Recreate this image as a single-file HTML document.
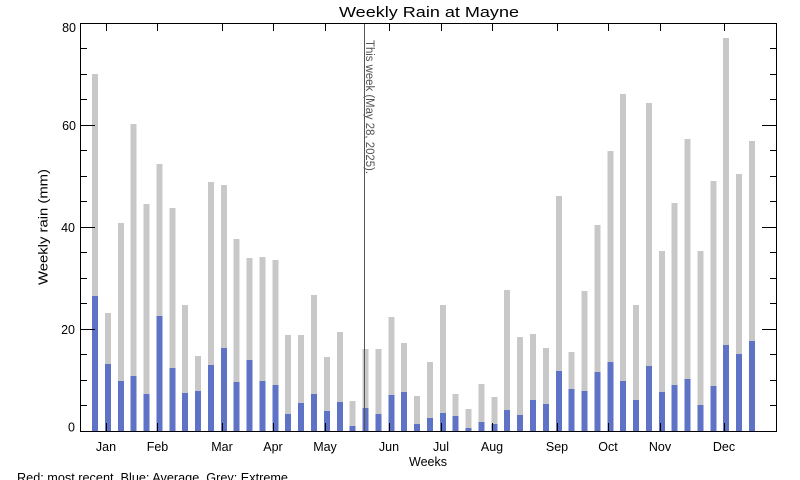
<!DOCTYPE html>
<html><head><meta charset="utf-8"><style>
html,body{margin:0;padding:0;background:#fff;}
svg{display:block;font-family:"Liberation Sans",sans-serif;}
</style></head><body>
<svg width="800" height="480" viewBox="0 0 800 480" xmlns="http://www.w3.org/2000/svg">
<rect width="800" height="480" fill="#fff"/>
<text x="429" y="17" font-size="15" text-anchor="middle" textLength="180" lengthAdjust="spacingAndGlyphs">Weekly Rain at Mayne</text>
<g shape-rendering="crispEdges">
<g fill="#c8c8c8">
<rect x="92" y="74" width="6" height="357"/>
<rect x="104.9" y="313" width="6" height="118"/>
<rect x="117.8" y="223" width="6" height="208"/>
<rect x="130.6" y="124" width="6" height="307"/>
<rect x="143.5" y="204" width="6" height="227"/>
<rect x="156.4" y="164" width="6" height="267"/>
<rect x="169.3" y="208" width="6" height="223"/>
<rect x="182.2" y="305" width="6" height="126"/>
<rect x="195.1" y="356" width="6" height="75"/>
<rect x="207.9" y="182" width="6" height="249"/>
<rect x="220.8" y="185" width="6" height="246"/>
<rect x="233.7" y="239" width="6" height="192"/>
<rect x="246.6" y="258" width="6" height="173"/>
<rect x="259.5" y="257" width="6" height="174"/>
<rect x="272.3" y="260" width="6" height="171"/>
<rect x="285.2" y="335" width="6" height="96"/>
<rect x="298.1" y="335" width="6" height="96"/>
<rect x="311" y="295" width="6" height="136"/>
<rect x="323.9" y="357" width="6" height="74"/>
<rect x="336.8" y="332" width="6" height="99"/>
<rect x="349.6" y="401" width="6" height="30"/>
<rect x="362.5" y="349" width="6" height="82"/>
<rect x="375.4" y="349" width="6" height="82"/>
<rect x="388.3" y="317" width="6" height="114"/>
<rect x="401.2" y="343" width="6" height="88"/>
<rect x="414.1" y="396" width="6" height="35"/>
<rect x="426.9" y="362" width="6" height="69"/>
<rect x="439.8" y="305" width="6" height="126"/>
<rect x="452.7" y="394" width="6" height="37"/>
<rect x="465.6" y="409" width="6" height="22"/>
<rect x="478.5" y="384" width="6" height="47"/>
<rect x="491.3" y="397" width="6" height="34"/>
<rect x="504.2" y="290" width="6" height="141"/>
<rect x="517.1" y="337" width="6" height="94"/>
<rect x="530" y="334" width="6" height="97"/>
<rect x="542.9" y="348" width="6" height="83"/>
<rect x="555.8" y="196" width="6" height="235"/>
<rect x="568.6" y="352" width="6" height="79"/>
<rect x="581.5" y="291" width="6" height="140"/>
<rect x="594.4" y="225" width="6" height="206"/>
<rect x="607.3" y="151" width="6" height="280"/>
<rect x="620.2" y="94" width="6" height="337"/>
<rect x="633" y="305" width="6" height="126"/>
<rect x="645.9" y="103" width="6" height="328"/>
<rect x="658.8" y="251" width="6" height="180"/>
<rect x="671.7" y="203" width="6" height="228"/>
<rect x="684.6" y="139" width="6" height="292"/>
<rect x="697.5" y="251" width="6" height="180"/>
<rect x="710.3" y="181" width="6" height="250"/>
<rect x="723.2" y="38" width="6" height="393"/>
<rect x="736.1" y="174" width="6" height="257"/>
<rect x="749" y="141" width="6" height="290"/>
</g>
<g fill="#5e72c6">
<rect x="92" y="296" width="6" height="135"/>
<rect x="104.9" y="364" width="6" height="67"/>
<rect x="117.8" y="381" width="6" height="50"/>
<rect x="130.6" y="376" width="6" height="55"/>
<rect x="143.5" y="394" width="6" height="37"/>
<rect x="156.4" y="316" width="6" height="115"/>
<rect x="169.3" y="368" width="6" height="63"/>
<rect x="182.2" y="393" width="6" height="38"/>
<rect x="195.1" y="391" width="6" height="40"/>
<rect x="207.9" y="365" width="6" height="66"/>
<rect x="220.8" y="348" width="6" height="83"/>
<rect x="233.7" y="382" width="6" height="49"/>
<rect x="246.6" y="360" width="6" height="71"/>
<rect x="259.5" y="381" width="6" height="50"/>
<rect x="272.3" y="385" width="6" height="46"/>
<rect x="285.2" y="414" width="6" height="17"/>
<rect x="298.1" y="403" width="6" height="28"/>
<rect x="311" y="394" width="6" height="37"/>
<rect x="323.9" y="411" width="6" height="20"/>
<rect x="336.8" y="402" width="6" height="29"/>
<rect x="349.6" y="426" width="6" height="5"/>
<rect x="362.5" y="408" width="6" height="23"/>
<rect x="375.4" y="414" width="6" height="17"/>
<rect x="388.3" y="395" width="6" height="36"/>
<rect x="401.2" y="392" width="6" height="39"/>
<rect x="414.1" y="424" width="6" height="7"/>
<rect x="426.9" y="418" width="6" height="13"/>
<rect x="439.8" y="413" width="6" height="18"/>
<rect x="452.7" y="416" width="6" height="15"/>
<rect x="465.6" y="428" width="6" height="3"/>
<rect x="478.5" y="422" width="6" height="9"/>
<rect x="491.3" y="424" width="6" height="7"/>
<rect x="504.2" y="410" width="6" height="21"/>
<rect x="517.1" y="415" width="6" height="16"/>
<rect x="530" y="400" width="6" height="31"/>
<rect x="542.9" y="404" width="6" height="27"/>
<rect x="555.8" y="371" width="6" height="60"/>
<rect x="568.6" y="389" width="6" height="42"/>
<rect x="581.5" y="391" width="6" height="40"/>
<rect x="594.4" y="372" width="6" height="59"/>
<rect x="607.3" y="362" width="6" height="69"/>
<rect x="620.2" y="381" width="6" height="50"/>
<rect x="633" y="400" width="6" height="31"/>
<rect x="645.9" y="366" width="6" height="65"/>
<rect x="658.8" y="392" width="6" height="39"/>
<rect x="671.7" y="385" width="6" height="46"/>
<rect x="684.6" y="379" width="6" height="52"/>
<rect x="697.5" y="405" width="6" height="26"/>
<rect x="710.3" y="386" width="6" height="45"/>
<rect x="723.2" y="345" width="6" height="86"/>
<rect x="736.1" y="354" width="6" height="77"/>
<rect x="749" y="341" width="6" height="90"/>
</g>
<line x1="364.5" y1="23" x2="364.5" y2="431" stroke="#555" stroke-width="1"/>
<g stroke="#000" stroke-width="1" fill="none">
<rect x="80.5" y="23.5" width="696" height="408"/>
<path d="M80 405.5h7M80 380.5h7M80 354.5h7M80 329.5h15M80 303.5h7M80 278.5h7M80 252.5h7M80 227.5h15M80 201.5h7M80 176.5h7M80 150.5h7M80 125.5h15M80 99.5h7M80 74.5h7M80 48.5h7"/>
<path d="M777 405.5h-7M777 380.5h-7M777 354.5h-7M777 329.5h-15M777 303.5h-7M777 278.5h-7M777 252.5h-7M777 227.5h-15M777 201.5h-7M777 176.5h-7M777 150.5h-7M777 125.5h-15M777 99.5h-7M777 74.5h-7M777 48.5h-7"/>
<path d="M106.5 23v8M157.5 23v8M222.5 23v8M273.5 23v8M325.5 23v8M389.5 23v8M441.5 23v8M492.5 23v8M557.5 23v8M608.5 23v8M660.5 23v8M724.5 23v8"/>
<path d="M106.5 431v-8M157.5 431v-8M222.5 431v-8M273.5 431v-8M325.5 431v-8M389.5 431v-8M441.5 431v-8M492.5 431v-8M557.5 431v-8M608.5 431v-8M660.5 431v-8M724.5 431v-8"/>
</g>
</g>
<text transform="translate(366,40) rotate(90)" font-size="11.5" fill="#555" textLength="134" lengthAdjust="spacingAndGlyphs">This week (May 28, 2025).</text>
<g font-size="12.5" text-anchor="end">
<text x="76" y="32">80</text>
<text x="76" y="130">60</text>
<text x="75" y="232">40</text>
<text x="75" y="334">20</text>
<text x="75" y="431.5">0</text>
</g>
<text transform="translate(47.5,227) rotate(-90)" font-size="12.5" text-anchor="middle" textLength="116" lengthAdjust="spacingAndGlyphs">Weekly rain (mm)</text>
<g font-size="12.5" text-anchor="middle">
<text x="106" y="451">Jan</text>
<text x="157.5" y="451">Feb</text>
<text x="222" y="451">Mar</text>
<text x="273" y="451">Apr</text>
<text x="325" y="451">May</text>
<text x="389" y="451">Jun</text>
<text x="441" y="451">Jul</text>
<text x="492" y="451">Aug</text>
<text x="557" y="451">Sep</text>
<text x="608" y="451">Oct</text>
<text x="660" y="451">Nov</text>
<text x="724" y="451">Dec</text>
</g>
<text x="428" y="466" font-size="13" text-anchor="middle" textLength="38" lengthAdjust="spacingAndGlyphs">Weeks</text>
<text x="17" y="482" font-size="13" textLength="271" lengthAdjust="spacingAndGlyphs">Red: most recent. Blue: Average. Grey: Extreme</text>
</svg>
</body></html>
